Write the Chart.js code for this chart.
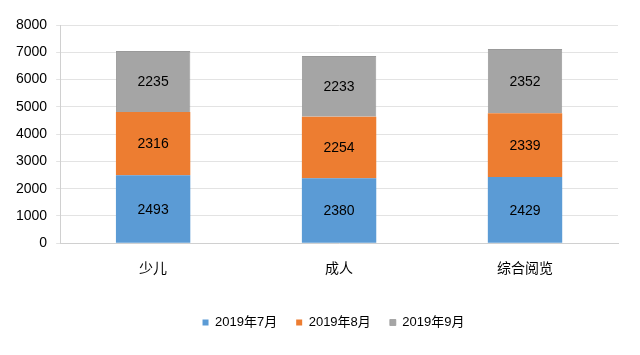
<!DOCTYPE html>
<html><head><meta charset="utf-8">
<script src="https://cdn.jsdelivr.net/npm/chart.js@4.4.1/dist/chart.umd.min.js"></script>
<style>html,body{margin:0;padding:0;background:#fff}#wrap{width:640px;height:355px}</style>
</head><body><div id="wrap"><canvas id="c" width="640" height="355"></canvas></div>
<script>
const categories = ['少儿', '成人', '综合阅览'];
const seriesNames = ['2019年7月', '2019年8月', '2019年9月'];
const july = [2493, 2380, 2429];
const august = [2316, 2254, 2339];
const september = [2235, 2233, 2352];
const colors = ['#5B9BD5', '#ED7D31', '#A5A5A5'];

const labelPlugin = {
  id: 'barLabels',
  afterLayout(chart) {
    const lg = chart.legend;
    if (lg) { lg.left += 21; lg.right += 21; }
  },
  afterDatasetsDraw(chart) {
    const ctx = chart.ctx;
    ctx.save();
    ctx.font = '14px "Liberation Sans", Arial, sans-serif';
    ctx.fillStyle = '#000';
    ctx.textAlign = 'center';
    ctx.textBaseline = 'middle';
    chart.data.datasets.forEach((ds, i) => {
      const meta = chart.getDatasetMeta(i);
      meta.data.forEach((bar, j) => {
        const y = (bar.y + bar.base) / 2;
        ctx.fillText(String(ds.data[j]), bar.x, y + 1);
      });
    });
    ctx.restore();
  }
};

const sets = [july, august, september].map((d, i) => ({
  label: seriesNames[i],
  data: d,
  backgroundColor: colors[i],
  borderColor: i === 2 ? '#999999' : colors[i],
  borderWidth: i === 2 ? { top: 1, left: 1, right: 1, bottom: 0 } : 0,
  borderSkipped: false,
  categoryPercentage: 0.8,
  barPercentage: 0.5
}));

new Chart(document.getElementById('c'), {
  type: 'bar',
  data: { labels: categories, datasets: sets },
  options: {
    responsive: false,
    animation: false,
    devicePixelRatio: 1,
    layout: { padding: { left: 7, right: 22, top: 25, bottom: 16 } },
    plugins: {
      legend: {
        position: 'bottom',
        labels: {
          boxWidth: 6, boxHeight: 6,
          padding: 19,
          color: '#000',
          font: { size: 13, family: '"Liberation Sans", "Noto Sans CJK SC", Arial, sans-serif' }
        }
      },
      tooltip: { enabled: false }
    },
    scales: {
      x: {
        stacked: true,
        grid: { display: false },
        border: { color: '#d0d0d0' },
        ticks: { color: '#000', padding: 8, font: { size: 14, family: '"Noto Sans CJK SC", sans-serif' } },
        afterFit: s => { s.height += 13; }
      },
      y: {
        stacked: true,
        min: 0, max: 8000,
        ticks: { stepSize: 1000, color: '#000', padding: 9, callback: v => String(v), font: { size: 14, family: '"Liberation Sans", Arial, sans-serif' } },
        grid: { color: '#e3e3e3', drawTicks: true, tickLength: 4 },
        border: { color: '#d0d0d0' }
      }
    }
  },
  plugins: [labelPlugin]
});
</script></body></html>
